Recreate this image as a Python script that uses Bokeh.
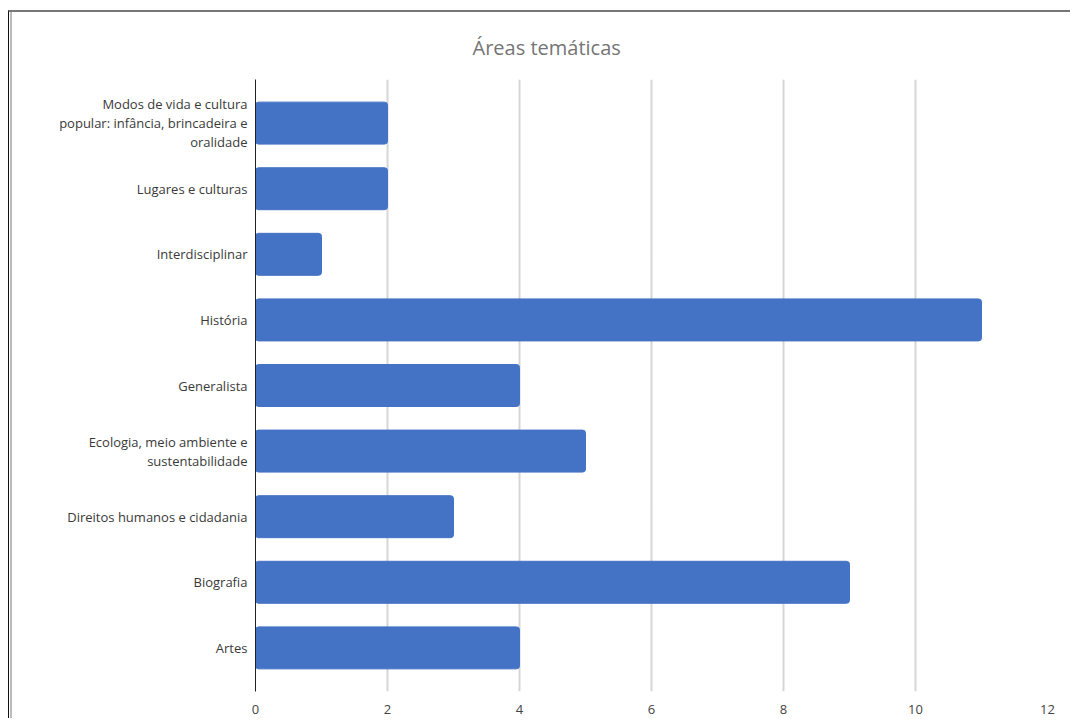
from bokeh.plotting import figure
from bokeh.models import FactorRange, Range1d, FixedTicker
from bokeh.embed import file_html
from bokeh.resources import INLINE

# Data (bottom to top)
categories = [
    "Artes",
    "Biografia",
    "Direitos humanos e cidadania",
    "Ecologia, meio ambiente e\nsustentabilidade",
    "Generalista",
    "História",
    "Interdisciplinar",
    "Lugares e culturas",
    "Modos de vida e cultura\npopular: infância, brincadeira e\noralidade",
]
values = [4, 9, 3, 5, 4, 11, 1, 2, 2]
x_ticks = [0, 2, 4, 6, 8, 10, 12]
title_text = "Áreas temáticas"

OX, OY = 9, 12  # page offset of the figure (document frame lines)

p = figure(
    width=1073 - OX - 2, height=720 - OY,
    y_range=FactorRange(factors=categories, range_padding=0.0367, range_padding_units="percent"),
    x_range=Range1d(0, 12),
    output_backend="svg", toolbar_location=None,
    min_border_left=255 - OX, min_border_right=24, min_border_top=79 - OY, min_border_bottom=29,
)
p.outline_line_color = None
p.background_fill_color = "white"
p.border_fill_color = None

p.hbar(y=categories, right=values, left=0, height=0.64, fill_color="#4472C4",
       line_color="#4472C4", line_width=1, border_radius=3)

# title
p.title.text = title_text
p.title.text_font = "Open Sans"
p.title.text_font_size = "20px"
p.title.text_font_style = "normal"
p.title.text_color = "#757575"
p.title.align = "left"
p.title.offset = 217
p.title.vertical_align = "bottom"
p.title.standoff = 38

# grid
p.ygrid.grid_line_color = None
p.xgrid.grid_line_color = "#d6d6d6"
p.xgrid.grid_line_width = 2
p.xaxis.ticker = FixedTicker(ticks=x_ticks)

# x axis
p.xaxis.axis_line_color = None
p.xaxis.major_tick_line_color = None
p.xaxis.minor_tick_line_color = None
p.xaxis.major_label_text_font = "Open Sans"
p.xaxis.major_label_text_font_size = "13px"
p.xaxis.major_label_text_color = "#444444"
p.xaxis.major_label_standoff = 7

# y axis
p.yaxis.axis_line_color = "#222222"
p.yaxis.axis_line_width = 1
p.yaxis.major_tick_line_color = None
p.yaxis.minor_tick_line_color = None
p.yaxis.major_label_text_font = "Open Sans"
p.yaxis.major_label_text_font_size = "13px"
p.yaxis.major_label_text_color = "#3a3a3a"
p.yaxis.major_label_text_line_height = 1.05
p.yaxis.major_label_standoff = 2

# document frame lines via CSS
p.styles = {"margin-left": "8px", "margin-top": "10px",
            "border-left": "1px solid #111111",
            "border-top": "2px solid #777777",
            "box-shadow": "inset 1px 0 0 #ffffff, inset 3px 0 0 #bbbbbb"}

open("out.html", "w").write(file_html(p, INLINE))
